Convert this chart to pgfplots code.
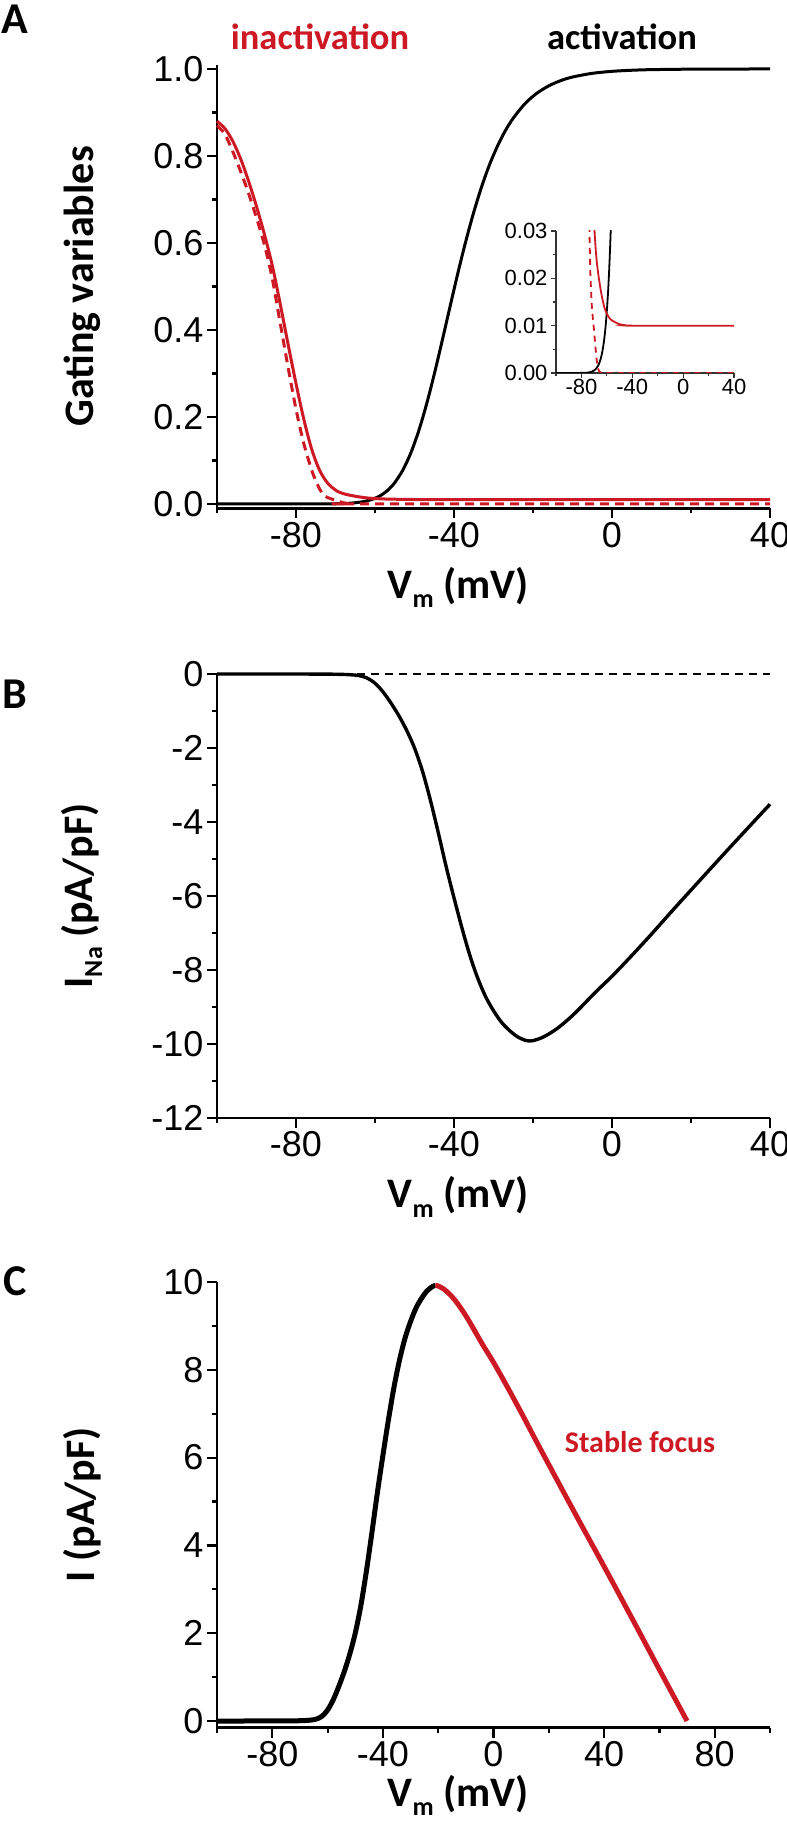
\documentclass[border=0pt]{standalone}
\usepackage{fontspec}
\setmainfont{Liberation Sans}
\newfontfamily\calfont{Carlito}
\usepackage{pgfplots}
\pgfplotsset{compat=1.18}
\usepackage{pgfplotstable}
\definecolor{myred}{RGB}{205,25,35}

\pgfplotstableread{
V y
-100 0.0000
-80 0.00002
-76 0.00006
-74 0.00013
-72 0.00027
-70 0.00054
-69 0.00076
-68 0.00106
-67 0.00148
-66 0.00206
-65 0.00285
-64 0.00393
-63 0.00537
-62 0.00729
-61 0.00983
-60 0.01314
-59 0.01741
-58 0.02289
-57 0.0298
-56 0.0384
-55 0.0490
-53 0.0771
-51 0.1159
-49 0.1662
-47 0.2277
-45 0.2983
-43 0.3750
-41 0.4539
-39 0.5315
-37 0.6044
-35 0.6708
-33 0.7295
-31 0.7802
-29 0.8226
-27 0.8582
-25 0.8870
-22 0.9206
-19 0.9444
-16 0.9613
-13 0.9732
-10 0.9815
-5 0.9900
0 0.9946
5 0.9971
10 0.9985
20 0.9996
30 0.9999
40 1.0000
}\act

\pgfplotstableread{
V y
-100 0.880
-98 0.863
-96 0.834
-94 0.793
-92 0.742
-90 0.684
-88 0.620
-86 0.548
-84 0.460
-82 0.367
-80 0.277
-78 0.194
-76 0.125
-74 0.077
-72 0.048
-70 0.032
-69 0.0270
-68 0.0237
-67 0.0214
-66 0.0195
-65 0.0178
-64 0.0163
-63 0.0150
-62 0.0139
-61 0.0131
-60 0.0125
-59 0.0120
-58 0.0116
-56 0.0111
-54 0.0108
-52 0.0105
-50 0.0103
-46 0.0101
-40 0.0100
40 0.0100
}\hsol

\pgfplotstableread{
V y
-100 0.870
-98 0.850
-96 0.810
-94 0.764
-92 0.714
-90 0.658
-88 0.596
-86 0.518
-84 0.416
-82 0.314
-80 0.218
-78 0.138
-76 0.077
-75 0.054
-74 0.034
-73 0.021
-72 0.0148
-71 0.0115
-70 0.0088
-69 0.0055
-68 0.0028
-67 0.0010
-66 0.0003
-64 0.0
40 0.0
}\hdash

\pgfplotstableread{
V y
-100 0
-80 -0.001
-72 -0.004
-68 -0.012
-66 -0.022
-64 -0.045
-62 -0.11
-60 -0.25
-58 -0.48
-56 -0.78
-54 -1.12
-52 -1.52
-50 -2.00
-48 -2.62
-46 -3.40
-44 -4.28
-42 -5.20
-40 -6.05
-38 -6.86
-36 -7.60
-34 -8.22
-32 -8.72
-30 -9.10
-28 -9.41
-26 -9.63
-24 -9.80
-22 -9.90
-21 -9.92
-20 -9.91
-18 -9.84
-16 -9.73
-14 -9.59
-12 -9.42
-10 -9.23
-8 -9.02
-4 -8.58
0 -8.17
5 -7.61
10 -7.03
15 -6.43
20 -5.84
30 -4.67
40 -3.52
}\ina

\pgfplotstableread{
V y
-100 0
-80 0.001
-72 0.004
-68 0.012
-66 0.022
-64 0.045
-62 0.11
-60 0.25
-58 0.48
-56 0.78
-54 1.12
-52 1.52
-50 2.00
-48 2.62
-46 3.40
-44 4.28
-42 5.20
-40 6.05
-38 6.86
-36 7.60
-34 8.22
-32 8.72
-30 9.10
-28 9.41
-26 9.63
-24 9.80
-22 9.90
-21 9.92
}\ciblack

\pgfplotstableread{
V y
-21 9.92
-20 9.91
-18 9.84
-16 9.73
-14 9.59
-12 9.42
-10 9.23
-8 9.02
-4 8.58
0 8.17
5 7.61
10 7.03
15 6.43
20 5.84
30 4.67
40 3.52
50 2.35
60 1.17
70 0.00
}\cired

\pgfplotsset{
  myax/.style={
    scale only axis, width=553pt,
    axis x line=bottom, axis y line=left,
    axis line style={-, line width=2.4pt},
    tick align=outside,
    major tick length=10pt, minor tick length=5pt,
    every tick/.style={black, line width=2.2pt},
    tick label style={font=\fontsize{36}{36}\selectfont},
    /pgf/number format/assume math mode=true,
    scaled y ticks=false,
    xmin=-100, clip=false,
    every axis x label/.style={at={(axis description cs:0.436,0)}, anchor=base, yshift=-90pt, font=\calfont\bfseries\fontsize{42}{42}\selectfont},
    every axis y label/.style={at={(axis description cs:-0.244,0.5)}, rotate=90, anchor=center, font=\calfont\bfseries\fontsize{42}{42}\selectfont},
  },
}

\newcommand{\vmlabel}{V\raisebox{-0.22em}{\fontsize{26}{26}\selectfont m} (mV)}

\begin{document}
\begin{tikzpicture}
\useasboundingbox (0pt,0pt) rectangle (787pt,1821pt);

% Panel A
\begin{axis}[myax, at={(217pt,1312.65pt)}, anchor=south west, height=443.7pt,
  xmax=40, ymin=-0.01, ymax=1.01,
  xtick={-80,-40,0,40}, minor xtick={-100,-60,-20,20},
  ytick={0,0.2,0.4,0.6,0.8,1}, minor ytick={0.1,0.3,0.5,0.7,0.9},
  yticklabel style={/pgf/number format/.cd,fixed,fixed zerofill,precision=1},
  xlabel={\vmlabel}, ylabel={Gating variables}]
\addplot[black, line width=3pt, smooth] table[x=V,y=y] {\act};
\addplot[myred, line width=3pt, smooth] table[x=V,y=y] {\hsol};
\addplot[myred, line width=3pt, smooth, dash pattern=on 9pt off 6pt] table[x=V,y=y] {\hdash};
\end{axis}

% Inset
\begin{axis}[at={(556pt,1448pt)}, anchor=south west, scale only axis,
  width=178pt, height=142pt,
  xmin=-100, xmax=40, ymin=0, ymax=0.03,
  axis x line=bottom, axis y line=left,
  axis line style={-, line width=1.3pt, black!80},
  tick align=outside, major tick length=5pt, minor tick length=3pt,
  every tick/.style={black!80, line width=1.2pt},
  tick label style={font=\fontsize{22}{22}\selectfont},
  /pgf/number format/assume math mode=true,
  scaled y ticks=false,
  xtick={-80,-40,0,40}, minor xtick={-100,-60,-20,20},
  ytick={0,0.01,0.02,0.03}, minor ytick={0.005,0.015,0.025},
  yticklabel style={/pgf/number format/.cd,fixed,fixed zerofill,precision=2},
  xticklabel style={yshift=2pt}]
\addplot[black, line width=1.8pt, smooth] table[x=V,y=y] {\act};
\addplot[myred, line width=1.8pt, smooth] table[x=V,y=y] {\hsol};
\addplot[myred, line width=1.8pt, dash pattern=on 6pt off 5pt] table[x=V,y=y] {\hdash};
\end{axis}

% Panel B
\begin{axis}[myax, at={(217pt,703pt)}, anchor=south west, height=444pt,
  xmax=40, ymin=-12, ymax=0,
  xtick={-80,-40,0,40}, minor xtick={-100,-60,-20,20},
  ytick={-12,-10,-8,-6,-4,-2,0}, minor ytick={-11,-9,-7,-5,-3,-1},
  xlabel={\vmlabel},
  ylabel={I\raisebox{-0.22em}{\fontsize{26}{26}\selectfont Na} (pA/pF)}]
\addplot[black, line width=1.6pt, dash pattern=on 8pt off 6pt] coordinates {(-100,0) (40,0)};
\addplot[black, line width=3.4pt, smooth] table[x=V,y=y] {\ina};
\end{axis}

% Panel C
\begin{axis}[myax, at={(217pt,93.4pt)}, anchor=south west, height=445.6pt,
  xmax=100, ymin=-0.15, ymax=10,
  xtick={-80,-40,0,40,80}, minor xtick={-100,-60,-20,20,60,100},
  ytick={0,2,4,6,8,10}, minor ytick={1,3,5,7,9},
  every axis x label/.append style={yshift=11pt},
  xlabel={\vmlabel}, ylabel={I (pA/pF)}]
\addplot[black, line width=5pt, smooth] table[x=V,y=y] {\ciblack};
\addplot[myred, line width=5pt, smooth] table[x=V,y=y] {\cired};
\end{axis}

% Annotations
\node[font=\calfont\bfseries\fontsize{44}{44}\selectfont] at (15pt,1802pt) {A};
\node[font=\calfont\bfseries\fontsize{44}{44}\selectfont] at (15pt,1127pt) {B};
\node[font=\calfont\bfseries\fontsize{44}{44}\selectfont] at (15pt,540pt) {C};
\node[font=\calfont\bfseries\fontsize{36.5}{36.5}\selectfont, text=myred, anchor=base] at (320pt,1771pt) {inactivation};
\node[font=\calfont\bfseries\fontsize{36.5}{36.5}\selectfont, text=black, anchor=base] at (622pt,1771pt) {activation};
\node[font=\calfont\bfseries\fontsize{30}{30}\selectfont, text=myred] at (640pt,379pt) {Stable focus};
\end{tikzpicture}
\end{document}
